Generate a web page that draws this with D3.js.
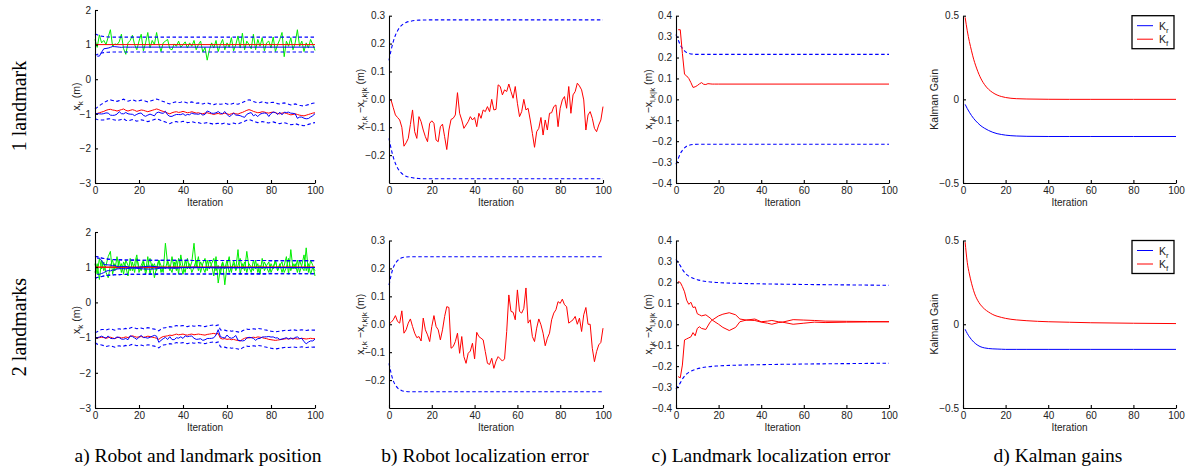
<!DOCTYPE html>
<meta charset="utf-8">
<style>
body { margin: 0; background: #fff; }
svg { display: block; font-family: "Liberation Sans", Arial, sans-serif; }
.axis path, .axis line { stroke: #000; stroke-width: 1.1; }
.axis text { font-size: 10px; fill: #222; font-family: "Liberation Sans", Arial, sans-serif; }
.lab { font-size: 10.5px; fill: #222; }
.capt { font-family: "Liberation Serif", "Times New Roman", serif; font-size: 19.5px; fill: #000; }
.row { font-family: "Liberation Serif", "Times New Roman", serif; font-size: 20px; fill: #000; }
.ln { fill: none; stroke-width: 1; }
.dash { fill: none; stroke: #0000ff; stroke-width: 1.1; stroke-dasharray: 3.5,2.5; }
</style>
<svg width="1194" height="468"></svg>
<script src="https://cdn.jsdelivr.net/npm/d3@7/dist/d3.min.js"></script>
<script>
// ---- data ----
var iters = d3.range(0, 101);

// robot localization error (panel b), one value per iteration 0..100
var errB1 = [0,-0.003,-0.03,-0.056,-0.065,-0.074,-0.1,-0.168,-0.156,-0.14,
  -0.09,-0.038,-0.116,-0.14,-0.062,-0.08,-0.11,-0.134,-0.152,-0.086,
  -0.077,-0.086,-0.146,-0.152,-0.098,-0.089,-0.134,-0.18,-0.11,-0.072,
  -0.068,-0.056,0.024,-0.05,-0.074,-0.104,-0.092,-0.08,-0.062,-0.074,
  -0.065,-0.098,-0.05,-0.068,-0.038,-0.044,-0.026,-0.044,0.0,-0.038,
  -0.036,0.052,0.046,0.016,0.034,0.028,0.055,0.028,0.004,0.046,
  -0.014,-0.062,-0.044,0.0,-0.038,-0.032,-0.074,-0.122,-0.172,-0.116,
  -0.104,-0.065,-0.128,-0.074,-0.11,-0.05,-0.048,-0.026,-0.02,-0.098,
  -0.032,-0.002,0.01,-0.032,0.046,-0.05,0.016,0.028,0.058,0.048,
  0.034,-0.002,-0.11,-0.056,-0.044,-0.068,-0.104,-0.116,-0.092,-0.074,
  -0.026];
var errB2 = [0,0.007,0.016,0.031,0.01,0.004,0.048,-0.032,-0.02,0.004,
  0.019,-0.008,-0.032,-0.048,-0.044,-0.06,0.022,-0.02,-0.038,-0.062,
  -0.008,0.031,-0.008,-0.02,-0.056,-0.02,0.028,0.063,0.06,-0.086,
  -0.08,-0.062,-0.032,-0.104,-0.044,-0.116,-0.14,-0.104,-0.096,-0.068,
  -0.124,-0.029,-0.044,-0.05,-0.056,-0.098,-0.14,-0.144,-0.122,-0.158,
  -0.132,-0.116,-0.124,-0.132,-0.124,-0.026,0.105,0.046,0.043,0.016,
  0.123,0.046,0.04,0.057,0.13,0.004,0.016,-0.044,-0.062,-0.014,
  0.019,-0.002,-0.032,-0.077,-0.05,-0.032,0.016,0.04,0.052,0.081,
  0.075,0.09,0.07,0.063,0.004,0.01,0.016,0.028,0,0.022,
  -0.026,0.034,0.06,0,0,-0.086,-0.134,-0.098,-0.074,-0.065,
  -0.014];

// 3-sigma bound of robot error (sampled iterations)
var boundBIter = [0,1,2,3,4,5,6,8,10,14,20,100];
var boundB1 = [0.14,0.177,0.207,0.23,0.246,0.258,0.266,0.276,0.28,0.284,0.285,0.285];
var boundB2 = [0.14,0.176,0.203,0.218,0.228,0.234,0.238,0.241,0.242,0.242,0.242,0.242];

// landmark error (panel c)
var errC1Iter = [1,2,3,4,5,6,7,8,9,10,11,12,13,14,15,16,17,18,20,100];
var errC1 = [0.333,0.333,0.22,0.12,0.112,0.1,0.08,0.057,0.06,0.066,0.074,0.08,0.072,0.071,0.075,0.074,0.073,0.073,0.073,0.073];
var boundC1Iter = [0,1,2,3,4,5,6,8,10,100];
var boundC1 = [0.31,0.285,0.26,0.244,0.232,0.224,0.22,0.216,0.215,0.215];

var errC2Iter = [1,2,3,4,5,6,7,8,9,10,11,12,14,16,17,20,22,25,28,30,33,37,40,43,45,48,50,55,60,65,70,80,90,100];
var errC2a = [0.204,0.2,0.18,0.155,0.115,0.095,0.105,0.08,0.083,0.05,0.045,0.04,0.045,0.03,0.02,0.0,-0.015,-0.03,-0.015,0.012,0.02,0.025,0.012,0.015,0.018,0.012,0.01,0.022,0.02,0.018,0.015,0.014,0.013,0.012];
var errC2b = [-0.25,-0.256,-0.195,-0.075,-0.07,-0.065,-0.06,-0.04,-0.055,-0.02,-0.012,-0.02,-0.025,0.01,0.02,0.04,0.048,0.055,0.045,0.025,0.02,0.018,0.01,0.005,0.0,0.008,0.01,0.0,0.005,0.01,0.008,0.01,0.011,0.012];
var boundC2Iter = [0,1,2,3,4,5,6,8,10,12,15,20,30,40,60,80,100];
var boundC2 = [0.31,0.295,0.28,0.262,0.248,0.237,0.23,0.22,0.213,0.208,0.203,0.199,0.195,0.193,0.19,0.188,0.186];

// Kalman gains (panel d)
var gainIter = [1,2,3,4,5,6,7,8,10,12,14,16,18,20,25,30,40,50,60,80,100];
var kf1 = [0.49,0.41,0.345,0.29,0.24,0.2,0.165,0.135,0.09,0.06,0.04,0.026,0.017,0.011,0.004,0.002,0.0005,0,0,0,0];
var kr1 = [-0.03,-0.055,-0.077,-0.097,-0.114,-0.129,-0.142,-0.154,-0.172,-0.186,-0.197,-0.205,-0.21,-0.214,-0.219,-0.221,-0.222,-0.222,-0.222,-0.222,-0.222];
var kf2 = [0.49,0.37,0.3,0.245,0.2,0.165,0.14,0.12,0.092,0.073,0.058,0.048,0.041,0.035,0.026,0.021,0.015,0.012,0.009,0.006,0.004];
var kr2 = [-0.03,-0.055,-0.075,-0.092,-0.106,-0.117,-0.126,-0.133,-0.141,-0.145,-0.147,-0.148,-0.149,-0.15,-0.15,-0.15,-0.15,-0.15,-0.15,-0.15,-0.15];

// panel a: true robot position and landmark measurements, iterations 0..100
var landmarkPos = 1;
var robotTrue1 = [-1.0,-0.99,-0.97,-0.95,-0.93,-0.9,-0.88,-0.87,-0.89,-0.9,
  -0.92,-0.9,-0.88,-0.86,-0.9,-0.92,-0.9,-0.88,-0.9,-0.93,
  -0.91,-0.89,-0.9,-0.92,-0.94,-0.92,-0.9,-0.88,-0.86,-0.88,
  -0.91,-0.93,-0.95,-0.98,-1.0,-0.97,-0.95,-0.94,-0.96,-0.95,
  -0.93,-0.95,-0.97,-0.96,-0.94,-0.96,-0.98,-0.97,-0.99,-1.0,
  -0.98,-0.97,-0.99,-1.0,-1.02,-1.0,-0.99,-1.01,-1.0,-0.98,
  -1.0,-1.02,-1.0,-0.98,-1.0,-1.01,-0.98,-0.96,-0.93,-0.9,
  -0.88,-0.9,-0.93,-0.95,-0.97,-0.96,-0.94,-0.95,-0.97,-0.98,
  -0.96,-0.95,-0.97,-0.99,-1.0,-0.98,-0.97,-0.99,-1.01,-1.03,
  -1.02,-1.0,-1.02,-1.04,-1.05,-1.06,-1.04,-1.02,-1.0,-0.98,
  -0.97];
var robotTrue2 = [-1.0,-1.01,-1.0,-0.99,-1.0,-1.02,-1.0,-0.99,-1.01,-1.03,
  -1.0,-0.99,-1.01,-1.0,-0.98,-1.0,-0.97,-0.95,-0.97,-0.99,
  -0.98,-0.97,-0.99,-0.98,-0.96,-0.97,-0.99,-1.0,-1.02,-1.05,
  -1.0,-0.97,-0.96,-0.95,-0.93,-0.94,-0.92,-0.9,-0.92,-0.91,
  -0.9,-0.92,-0.93,-0.91,-0.9,-0.92,-0.91,-0.9,-0.91,-0.92,
  -0.93,-0.91,-0.9,-0.89,-0.88,-0.9,-0.88,-1.02,-1.04,-1.03,
  -1.05,-1.04,-1.06,-1.05,-1.07,-1.08,-1.1,-1.05,-1.02,-1.0,
  -1.01,-1.0,-0.99,-1.0,-0.98,-0.99,-1.0,-1.02,-1.03,-1.05,
  -1.06,-1.07,-1.08,-1.07,-1.06,-1.05,-1.04,-1.03,-1.04,-1.03,
  -1.02,-1.03,-1.04,-1.03,-1.02,-1.03,-1.04,-1.03,-1.02,-1.03,
  -1.03];
var meas1 = [1.15,0.92,1.28,1.05,1.12,1.0,1.22,1.43,0.95,1.02,
  1.0,1.08,1.3,0.88,0.72,1.05,1.12,1.27,1.0,0.85,
  1.1,1.3,0.82,1.05,1.35,0.9,1.12,1.0,1.35,1.02,
  0.8,1.05,1.1,1.15,0.88,0.85,1.02,0.95,1.1,0.92,
  1.0,1.08,0.9,1.05,0.95,1.12,0.85,1.0,1.1,0.78,
  0.92,0.55,0.85,1.05,0.9,1.12,0.8,1.0,1.15,0.85,
  1.05,0.92,1.2,0.82,1.0,1.25,0.9,1.33,0.85,1.1,
  1.0,0.88,1.3,0.85,1.15,0.95,1.2,0.82,1.05,1.1,
  0.9,1.22,0.8,1.0,1.15,1.35,0.65,1.1,0.95,1.2,
  0.85,1.05,1.43,0.95,1.1,0.8,1.05,0.9,1.15,1.0,
  0.83];
var meas2a = [0.85,1.1,0.65,1.2,0.9,1.05,1.3,1.45,0.8,1.1,
  0.95,1.2,0.85,1.15,1.0,0.75,1.25,0.9,1.1,1.35,
  0.85,1.05,1.2,0.9,1.3,0.8,1.1,0.7,1.0,1.2,
  1.05,0.85,1.68,1.1,0.9,1.3,0.95,1.2,0.8,1.35,
  1.0,0.85,1.25,0.95,1.15,1.68,1.0,1.3,0.85,1.1,
  1.25,0.9,1.2,1.05,0.75,1.3,0.55,0.95,1.15,0.5,
  1.05,1.3,0.85,1.2,0.95,1.5,0.8,1.1,0.9,1.45,
  1.0,0.85,1.2,0.95,1.1,0.8,1.25,0.9,1.05,1.15,
  0.85,1.0,1.2,0.9,1.1,0.85,1.05,1.3,0.8,1.5,
  0.95,1.1,0.85,1.2,1.0,0.9,1.55,0.85,1.2,1.05,
  0.75];
var meas2b = [1.1,0.8,1.25,0.95,1.15,0.85,0.7,1.05,1.2,0.9,
  1.3,0.95,1.1,0.8,1.2,1.05,0.9,1.15,0.85,1.25,
  1.0,0.9,1.15,0.8,1.05,1.25,0.95,1.1,0.9,1.2,
  0.85,1.05,0.95,1.2,1.0,0.85,1.15,0.9,1.25,1.05,
  0.8,1.2,0.95,1.1,0.85,1.0,1.2,0.9,1.15,1.0,
  0.85,1.2,0.95,1.1,1.25,0.9,1.05,0.8,1.15,0.95,
  1.2,0.85,1.0,1.1,0.9,1.05,1.25,0.95,1.15,0.85,
  1.1,1.0,0.9,1.2,0.85,1.05,0.95,1.15,1.0,0.85,
  1.1,0.95,1.2,0.9,1.05,1.15,0.85,1.0,1.25,0.9,
  1.1,0.95,1.2,0.85,1.05,1.35,0.9,1.1,0.8,1.0,
  0.9];

var captions = ["a) Robot and landmark position", "b) Robot localization error",
                "c) Landmark localization error", "d) Kalman gains"];
var rowLabels = ["1 landmark", "2 landmarks"];
var xTicks = [0, 20, 40, 60, 80, 100];

// ---- drawing ----
var svg = d3.select("svg");

function zip(xs, ys) { return xs.map(function(x, i) { return [x, ys[i]]; }); }

function makePanel(x0, x1, yTop, yBot, yDomain, yTicks, yFmt) {
  var x = d3.scaleLinear().domain([0, 100]).range([x0, x1]);
  var y = d3.scaleLinear().domain(yDomain).range([yBot, yTop]);
  var g = svg.append("g");
  var layer = g.append("g");
  g.append("g").attr("class", "axis")
      .attr("transform", "translate(0," + yBot + ")")
      .call(d3.axisBottom(x).tickValues(xTicks).tickSizeInner(-3).tickSizeOuter(0).tickPadding(4));
  g.append("g").attr("class", "axis")
      .attr("transform", "translate(" + x0 + ",0)")
      .call(d3.axisLeft(y).tickValues(yTicks).tickFormat(yFmt).tickSizeInner(-3).tickSizeOuter(0).tickPadding(4));
  g.append("text").attr("class", "lab")
      .attr("x", (x0 + x1) / 2).attr("y", yBot + 22.5)
      .attr("text-anchor", "middle").style("font-size", "10px").text("Iteration");
  var line = d3.line().x(function(d) { return x(d[0]); }).y(function(d) { return y(d[1]); });
  return { x: x, y: y, g: g, layer: layer, line: line };
}

function yLabel(p, lx, parts) {
  var cy = (p.y.range()[0] + p.y.range()[1]) / 2;
  var t = p.g.append("text").attr("class", "lab")
      .attr("transform", "translate(" + lx + "," + cy + ") rotate(-90)")
      .attr("text-anchor", "middle");
  var shift = 0;
  parts.forEach(function(pt) {
    var sub = pt[1];
    var dy = sub ? 3 - shift : -shift;
    shift = sub ? 3 : 0;
    t.append("tspan").attr("dy", dy).style("font-size", sub ? "8px" : "10.5px").text(pt[0]);
  });
}

function draw(p, pts, color, cls, curve) {
  var l = p.line;
  if (curve) l = d3.line().x(p.line.x()).y(p.line.y()).curve(d3.curveMonotoneX);
  return p.layer.append("path").attr("class", cls || "ln")
      .attr("stroke", cls === "dash" ? null : color).attr("d", l(pts));
}

var cols = [[95, 315], [389, 603], [676, 889], [963, 1176]];
var rows = [
  { aTop: 10, top: 15.7, bot: 183, errB: errB1, boundB: boundB1, robot: robotTrue1,
    meas: [meas1], errC: [errC1], errCIter: errC1Iter, boundC: boundC1, boundCIter: boundC1Iter,
    kf: kf1, kr: kr1 },
  { aTop: 232, top: 240.5, bot: 408, errB: errB2, boundB: boundB2, robot: robotTrue2,
    meas: [meas2a, meas2b], errC: [errC2a, errC2b], errCIter: errC2Iter, boundC: boundC2, boundCIter: boundC2Iter,
    kf: kf2, kr: kr2 }
];

var fmt1 = d3.format(".1f");
rows.forEach(function(r, ri) {
  var bB = d3.scaleLinear().domain(boundBIter).range(r.boundB);
  var bC = d3.scaleLinear().domain(r.boundCIter).range(r.boundC);

  // a) robot and landmark position
  var a = makePanel(cols[0][0], cols[0][1], r.aTop, r.bot, [-3, 2], [-3, -2, -1, 0, 1, 2], d3.format("d"));
  yLabel(a, 80, [["x"], ["k", 1], [" (m)"]]);
  r.meas.forEach(function(m) { draw(a, zip(iters, m), "#00ee00"); });
  r.errC.forEach(function(e) {
    draw(a, [[0, landmarkPos], [100, landmarkPos]], "#ff0000").attr("stroke-width", ri ? 2.2 : 1.2);
  });
  r.errC.forEach(function(e) {
    draw(a, zip(r.errCIter, e.map(function(v) { return landmarkPos - v; })), "#0000ff");
    draw(a, iters.map(function(t) { return [t, landmarkPos + bC(t)]; }), null, "dash");
    draw(a, iters.map(function(t) { return [t, landmarkPos - bC(t)]; }), null, "dash");
  });
  draw(a, zip(iters, r.robot), "#ff0000");
  draw(a, iters.map(function(t, i) { return [t, r.robot[i] + r.errB[i]]; }), "#0000ff");
  draw(a, iters.map(function(t, i) { return [t, r.robot[i] + bB(t)]; }), null, "dash");
  draw(a, iters.map(function(t, i) { return [t, r.robot[i] - bB(t)]; }), null, "dash");

  // b) robot localization error
  var b = makePanel(cols[1][0], cols[1][1], r.top, r.bot, [-0.3, 0.3], [-0.2, -0.1, 0, 0.1, 0.2, 0.3], fmt1);
  yLabel(b, 364, [["x"], ["r,k", 1], [" \u2212x"], ["r,k|k", 1], [" (m)"]]);
  draw(b, zip(boundBIter, r.boundB), null, "dash", true);
  draw(b, zip(boundBIter, r.boundB.map(function(v) { return -v; })), null, "dash", true);
  draw(b, zip(iters, r.errB), "#ff0000");

  // c) landmark localization error
  var c = makePanel(cols[2][0], cols[2][1], r.top, r.bot, [-0.4, 0.4], d3.range(-4, 5).map(function(i) { return i / 10; }), fmt1);
  yLabel(c, 652, [["x"], ["l,k", 1], [" \u2212x"], ["l,k|k", 1], [" (m)"]]);
  draw(c, zip(r.boundCIter, r.boundC), null, "dash", true);
  draw(c, zip(r.boundCIter, r.boundC.map(function(v) { return -v; })), null, "dash", true);
  r.errC.forEach(function(e) { draw(c, zip(r.errCIter, e), "#ff0000"); });

  // d) Kalman gains
  var d = makePanel(cols[3][0], cols[3][1], r.top, r.bot, [-0.5, 0.5], [-0.5, 0, 0.5], d3.format(".1~f"));
  yLabel(d, 938, [["Kalman Gain"]]);
  draw(d, zip(gainIter, r.kr), "#0000ff", null, true);
  draw(d, zip(gainIter, r.kf), "#ff0000", null, true);
  var lg = d.g.append("g").attr("transform", "translate(1132," + r.top + ")");
  lg.append("rect").attr("width", 42).attr("height", 33).attr("fill", "#fff").attr("stroke", "#000").attr("stroke-width", 1.3);
  [["r", "#0000ff"], ["f", "#ff0000"]].forEach(function(e, i) {
    var yy = 10 + i * 13.5;
    lg.append("line").attr("x1", 5).attr("x2", 21).attr("y1", yy).attr("y2", yy).attr("stroke", e[1]).attr("stroke-width", 1);
    var t = lg.append("text").attr("class", "lab").attr("x", 27).attr("y", yy + 4);
    t.append("tspan").text("K");
    t.append("tspan").attr("dy", 3).style("font-size", "8px").text(e[0]);
  });

  // row label
  svg.append("text").attr("class", "row")
      .attr("transform", "translate(26," + (ri ? 327 : 106) + ") rotate(-90)")
      .attr("text-anchor", "middle").text(rowLabels[ri]);
});

var capX = [198, 485, 771, 1058];
captions.forEach(function(c, i) {
  svg.append("text").attr("class", "capt").attr("x", capX[i]).attr("y", 462)
      .attr("text-anchor", "middle").text(c);
});
</script>
